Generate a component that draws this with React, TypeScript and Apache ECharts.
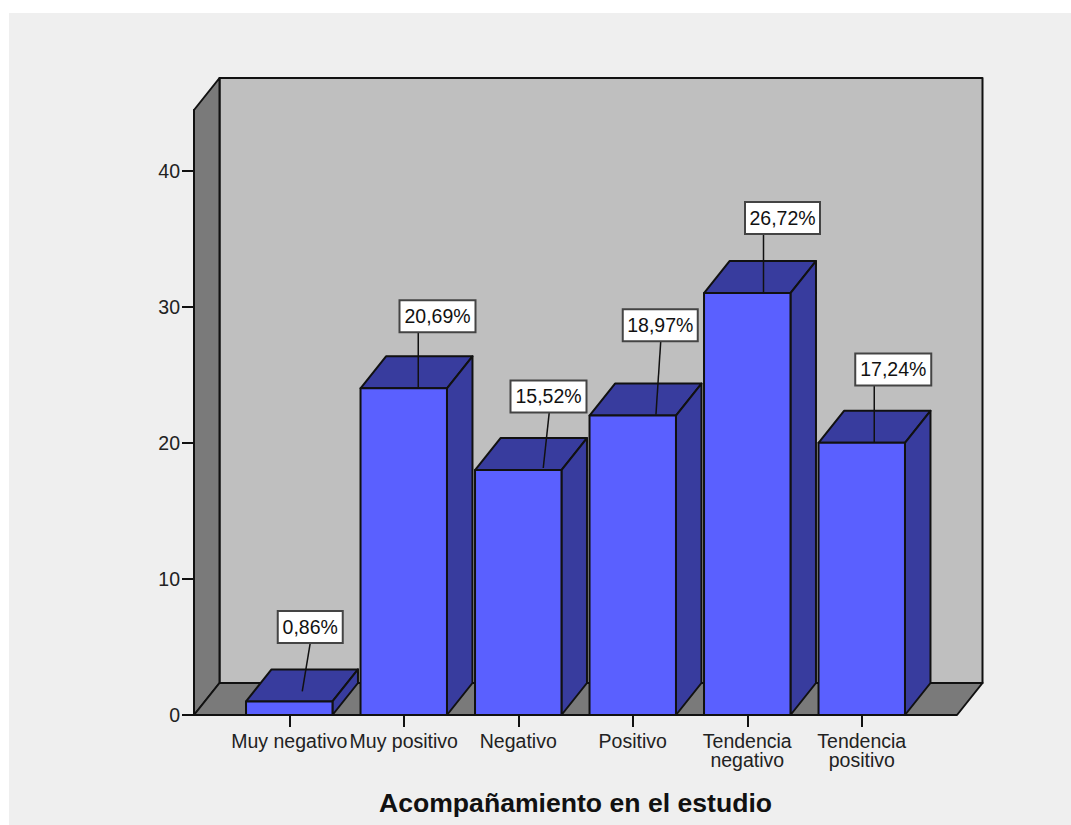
import React, { useEffect, useRef } from "react";
import * as echarts from "echarts";

// Answers per category (116 respondents in total) and their shares.
const categories = [
  "Muy negativo",
  "Muy positivo",
  "Negativo",
  "Positivo",
  "Tendencia\nnegativo",
  "Tendencia\npositivo",
];
const counts = [1, 24, 18, 22, 31, 20];
const percents = [0.86, 20.69, 15.52, 18.97, 26.72, 17.24];
const yTicks = [0, 10, 20, 30, 40];
const axisTitle = "Acompañamiento en el estudio";

// Oblique extrusion of the chart box and of each bar, in pixels.
const DEPTH_X = 25.5;
const DEPTH_Y = 32;
const SIDE_PAD = 38;
const BAR_RATIO = 0.755;

const INK = "#111111";
const FONT = "'Liberation Sans', Arial, sans-serif";

// Where each callout sits relative to the bar's centre and top edge.
const calloutLayout = [
  { endDx: 13, endDy: -10, startDx: 21, boxDx: 21, boxBottomDy: -58.4, boxW: 65 },
  { endDx: 14.5, endDy: 0, startDx: 14.5, boxDx: 33.75, boxBottomDy: -56.2, boxW: 76 },
  { endDx: 25, endDy: -2, startDx: 31, boxDx: 30.25, boxBottomDy: -57.6, boxW: 76 },
  { endDx: 23.2, endDy: -1, startDx: 28, boxDx: 27.5, boxBottomDy: -74.3, boxW: 75 },
  { endDx: 16.25, endDy: 0, startDx: 16.25, boxDx: 35.25, boxBottomDy: -59, boxW: 75 },
  { endDx: 12.5, endDy: 0, startDx: 12.5, boxDx: 31.5, boxBottomDy: -57.3, boxW: 76 },
];

const drawBox = (params: any) => {
  const { x, y, width, height } = params.coordSys;
  const left = x - SIDE_PAD;
  const right = x + width + SIDE_PAD;
  const top = y;
  const bottom = y + height;
  const base = { stroke: INK, lineWidth: 2, lineJoin: "round" };
  return {
    type: "group",
    children: [
      {
        type: "rect",
        shape: {
          x: left + DEPTH_X,
          y: top - DEPTH_Y,
          width: right - left,
          height: height,
        },
        style: { ...base, fill: "#bfbfbf" },
      },
      {
        type: "polygon",
        shape: {
          points: [
            [left, top],
            [left + DEPTH_X, top - DEPTH_Y],
            [left + DEPTH_X, bottom - DEPTH_Y],
            [left, bottom],
          ],
        },
        style: { ...base, fill: "#7a7a7a" },
      },
      {
        type: "polygon",
        shape: {
          points: [
            [left, bottom],
            [right, bottom],
            [right + DEPTH_X, bottom - DEPTH_Y],
            [left + DEPTH_X, bottom - DEPTH_Y],
          ],
        },
        style: { ...base, fill: "#7a7a7a" },
      },
    ],
  };
};

const drawBar = (_: any, api: any) => {
  const [cx, yTop] = api.coord([api.value(0), api.value(1)]);
  const [, yBase] = api.coord([api.value(0), 0]);
  const w = api.size([1, 0])[0] * BAR_RATIO;
  const x0 = cx - w / 2;
  const x1 = cx + w / 2;
  const base = { stroke: INK, lineWidth: 2, lineJoin: "round" };
  return {
    type: "group",
    children: [
      {
        type: "polygon",
        shape: {
          points: [
            [x0, yTop],
            [x0 + DEPTH_X, yTop - DEPTH_Y],
            [x1 + DEPTH_X, yTop - DEPTH_Y],
            [x1, yTop],
          ],
        },
        style: { ...base, fill: "#383c9e" },
      },
      {
        type: "polygon",
        shape: {
          points: [
            [x1, yTop],
            [x1 + DEPTH_X, yTop - DEPTH_Y],
            [x1 + DEPTH_X, yBase - DEPTH_Y],
            [x1, yBase],
          ],
        },
        style: { ...base, fill: "#383c9e" },
      },
      {
        type: "rect",
        shape: { x: x0, y: yTop, width: w, height: yBase - yTop },
        style: { ...base, fill: "#5a60ff" },
      },
    ],
  };
};

const drawCallout = (params: any, api: any) => {
  const layout = calloutLayout[params.dataIndex];
  const [cx, yTop] = api.coord([api.value(0), api.value(1)]);
  const text = api.value(2).toFixed(2).replace(".", ",") + "%";
  const boxW = layout.boxW;
  const boxH = 32;
  const boxBottom = yTop + layout.boxBottomDy;
  return {
    type: "group",
    children: [
      {
        type: "line",
        shape: {
          x1: cx + layout.startDx,
          y1: boxBottom,
          x2: cx + layout.endDx,
          y2: yTop + layout.endDy,
        },
        style: { stroke: INK, lineWidth: 1.5 },
      },
      {
        type: "rect",
        shape: {
          x: cx + layout.boxDx - boxW / 2,
          y: boxBottom - boxH,
          width: boxW,
          height: boxH,
        },
        style: { fill: "#ffffff", stroke: "#444444", lineWidth: 2 },
      },
      {
        type: "text",
        x: cx + layout.boxDx,
        y: boxBottom - boxH / 2,
        style: {
          text,
          fill: "#111111",
          font: `19.5px ${FONT}`,
          align: "center",
          verticalAlign: "middle",
        },
      },
    ],
  };
};

export default function App() {
  const ref = useRef<HTMLDivElement>(null);

  useEffect(() => {
    const chart = echarts.init(ref.current!, null, { renderer: "svg" });
    chart.setOption({
      animation: false,
      backgroundColor: "#ffffff",
      graphic: [
        {
          type: "rect",
          z: -10,
          shape: { x: 9, y: 13, width: 1062, height: 812 },
          style: { fill: "#efefef" },
        },
      ],
      grid: { left: 232, top: 110, width: 687, height: 605, outerBoundsMode: "none" },
      xAxis: {
        type: "category",
        data: categories,
        name: axisTitle,
        nameLocation: "middle",
        nameGap: 74,
        nameMoveOverlap: false,
        nameTextStyle: {
          color: "#111111",
          fontFamily: FONT,
          fontWeight: "bold",
          fontSize: 26.6,
        },
        axisLine: { show: false },
        axisTick: {
          show: true,
          alignWithLabel: true,
          length: 12,
          lineStyle: { color: INK, width: 2 },
        },
        axisLabel: {
          interval: 0,
          margin: 16,
          hideOverlap: false,
          color: "#222222",
          fontFamily: FONT,
          fontSize: 19.5,
          lineHeight: 19.5,
        },
      },
      yAxis: {
        type: "value",
        min: 0,
        max: 44.45,
        interval: 10,
        offset: SIDE_PAD,
        splitLine: { show: false },
        axisLine: { show: true, lineStyle: { color: INK, width: 2 } },
        axisTick: {
          show: true,
          length: 12,
          customValues: yTicks,
          lineStyle: { color: INK, width: 2 },
        },
        axisLabel: {
          margin: 14,
          customValues: yTicks,
          color: "#222222",
          fontFamily: FONT,
          fontSize: 19.5,
        },
      },
      series: [
        {
          type: "custom",
          z: 1,
          data: [[0, 0]],
          renderItem: drawBox,
          silent: true,
        },
        {
          type: "custom",
          z: 2,
          data: counts.map((c, i) => [i, c]),
          renderItem: drawBar,
          silent: true,
        },
        {
          type: "custom",
          z: 3,
          data: counts.map((c, i) => [i, c, percents[i]]),
          renderItem: drawCallout,
          silent: true,
        },
      ],
    });
    return () => chart.dispose();
  }, []);

  return (
    <div
      ref={ref}
      style={{ position: "absolute", left: 0, top: 0, width: 1071, height: 825 }}
    />
  );
}
